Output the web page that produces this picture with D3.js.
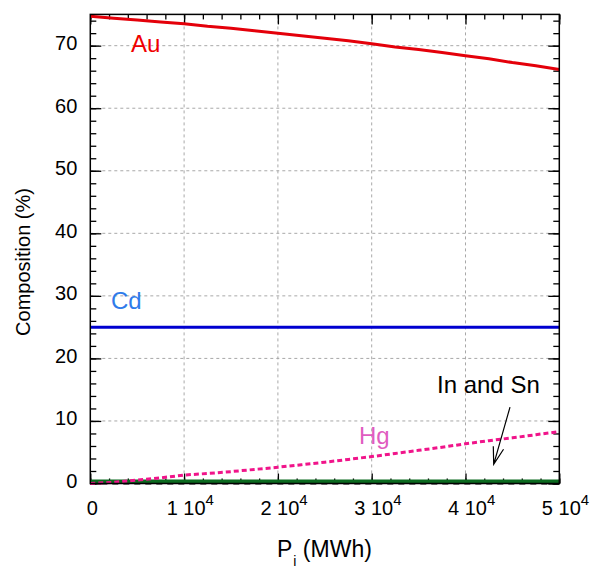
<!DOCTYPE html>
<html><head><meta charset="utf-8">
<script src="https://cdn.jsdelivr.net/npm/d3@7"></script>
<style>body{margin:0;background:#fff}svg{display:block;font-family:"Liberation Sans",Arial,sans-serif}</style>
</head><body><svg id="c" width="600" height="569"></svg>
<script>
// ---- data ----
const power = [0,2500,5000,7500,10000,12500,15000,17500,20000,22500,25000,27500,30000,32500,35000,37500,40000,42500,45000,47500,50000];
const au = [74.7,74.4,74.1,73.8,73.5,73.1,72.8,72.4,72.0,71.6,71.2,70.8,70.3,69.8,69.4,68.9,68.4,67.9,67.3,66.8,66.2];
const cd = [25,25,25,25,25,25,25,25,25,25,25,25,25,25,25,25,25,25,25,25,25];
const hg = [0,0.2,0.55,0.9,1.35,1.6,1.9,2.25,2.6,3.0,3.4,3.85,4.3,4.8,5.3,5.8,6.35,6.85,7.3,7.8,8.3];
const inn = [0.35,0.35,0.35,0.35,0.35,0.35,0.35,0.35,0.35,0.35,0.35,0.35,0.35,0.35,0.35,0.35,0.35,0.35,0.35,0.35,0.35];
const sn = [0.05,0.05,0.05,0.05,0.05,0.05,0.05,0.05,0.05,0.05,0.05,0.05,0.05,0.05,0.05,0.05,0.05,0.05,0.05,0.05,0.05];
const xTicks = [0,10000,20000,30000,40000,50000];
const xTickMant = ["0","1 10","2 10","3 10","4 10","5 10"];
const yTicks = [0,10,20,30,40,50,60,70];
const labels = [
  {text:"Au", x:4340, y:69.0, color:"#f00000"},
  {text:"Cd", x:2200, y:27.85, color:"#2f7bea"},
  {text:"Hg", x:28650, y:6.27, color:"#e05cc0"},
  {text:"In and Sn", x:36960, y:14.47, color:"#000"}
];
const arrow = {from:[44744,12.2], to:[43006,3.07]};

// ---- layout ----
const svg = d3.select("#c");
const L=90.3, R=559.3, T=14.4, B=483.5;
const x = d3.scaleLinear().domain([0,50000]).range([L,R]);
const y = d3.scaleLinear().domain([0,75]).range([B,T]);

// grid
const g = svg.append("g");
g.selectAll(".gx").data(xTicks.slice(1,-1)).enter().append("line")
  .attr("x1",d=>x(d)).attr("x2",d=>x(d)).attr("y1",T).attr("y2",B)
  .attr("stroke","#a8a8a8").attr("stroke-dasharray","3,3").attr("stroke-width",1);
g.selectAll(".gy").data(yTicks.slice(1)).enter().append("line")
  .attr("y1",d=>y(d)).attr("y2",d=>y(d)).attr("x1",L).attr("x2",R)
  .attr("stroke","#a8a8a8").attr("stroke-dasharray","3,3").attr("stroke-width",1);

// axes with inward ticks
const xMinor = d3.range(0,50001,2000);
const yMinor = d3.range(0,75.01,2);
function addAxis(axisFn, scale, tr, vals, size){
  svg.append("g").attr("transform",tr)
    .call(axisFn(scale).tickValues(vals).tickSize(size).tickFormat(""))
    .call(a=>{a.select(".domain").remove(); a.selectAll("line").attr("stroke","#000").attr("stroke-width",1.3);});
}
addAxis(d3.axisTop, x, `translate(0,${B})`, xMinor, 5);
addAxis(d3.axisTop, x, `translate(0,${B})`, xTicks, 10);
addAxis(d3.axisBottom, x, `translate(0,${T})`, xMinor, 5);
addAxis(d3.axisBottom, x, `translate(0,${T})`, xTicks, 10);
addAxis(d3.axisRight, y, `translate(${L},0)`, yMinor, 6);
addAxis(d3.axisRight, y, `translate(${L},0)`, yTicks, 11);
addAxis(d3.axisLeft, y, `translate(${R},0)`, yMinor, 6);
addAxis(d3.axisLeft, y, `translate(${R},0)`, yTicks, 11);

// lines
const series = [
  {vals:sn, color:"#000", w:2.5, dash:"6,5"},
  {vals:inn, color:"#0b6a1f", w:3.5, dash:null},
  {vals:hg, color:"#f0148a", w:3, dash:"5,3"},
  {vals:cd, color:"#0000d0", w:3, dash:null},
  {vals:au, color:"#e4000a", w:3, dash:null}
];
const line = d3.line().x(d=>x(d[0])).y(d=>y(d[1]));
series.forEach(s=>{
  svg.append("path").datum(power.map((p,i)=>[p,s.vals[i]]))
    .attr("d",line).attr("fill","none").attr("stroke",s.color)
    .attr("stroke-width",s.w).attr("stroke-dasharray",s.dash);
});

// frame
svg.append("rect").attr("x",L).attr("y",T).attr("width",R-L).attr("height",B-T)
  .attr("fill","none").attr("stroke","#000").attr("stroke-width",1.5);

// tick labels
svg.selectAll(".yl").data(yTicks).enter().append("text")
  .attr("x",L-13).attr("y",d=>y(d)+4.5).attr("text-anchor","end")
  .attr("font-size",20).attr("fill","#000").text(d=>d);
xTicks.forEach((v,i)=>{
  const t = svg.append("text").attr("y",515).attr("font-size",20).attr("fill","#000");
  t.append("tspan").text(xTickMant[i]);
  if(v!==0){ t.append("tspan").attr("dy",-10).attr("font-size",15).text("4"); }
  const mw = t.select("tspan").node().getComputedTextLength();
  t.attr("x", x(v)+2-mw/2);
});

// axis titles
const xt = svg.append("text").attr("x",277).attr("y",557).attr("font-size",23).attr("fill","#000");
xt.append("tspan").text("P");
xt.append("tspan").attr("dy",9).attr("dx",1).attr("font-size",14).text("i");
xt.append("tspan").attr("dy",-9).text(" (MWh)");
svg.append("text").attr("transform","translate(30,262) rotate(-90)")
  .attr("text-anchor","middle").attr("font-size",20).attr("fill","#000").text("Composition (%)");

// labels
svg.selectAll(".lab").data(labels).enter().append("text")
  .attr("x",d=>x(d.x)).attr("y",d=>y(d.y)).attr("font-size",24).attr("fill",d=>d.color).text(d=>d.text);

// arrow
const [fx,fy]=[x(arrow.from[0]),y(arrow.from[1])], [tx,ty]=[x(arrow.to[0]),y(arrow.to[1])];
const ang = Math.atan2(fy-ty, fx-tx), hl=18, ha=0.3;
svg.append("path")
  .attr("d",`M${fx},${fy}L${tx},${ty}M${tx+hl*Math.cos(ang+ha)},${ty+hl*Math.sin(ang+ha)}L${tx},${ty}L${tx+hl*Math.cos(ang-ha)},${ty+hl*Math.sin(ang-ha)}`)
  .attr("fill","none").attr("stroke","#000").attr("stroke-width",1.2);
</script></body></html>
